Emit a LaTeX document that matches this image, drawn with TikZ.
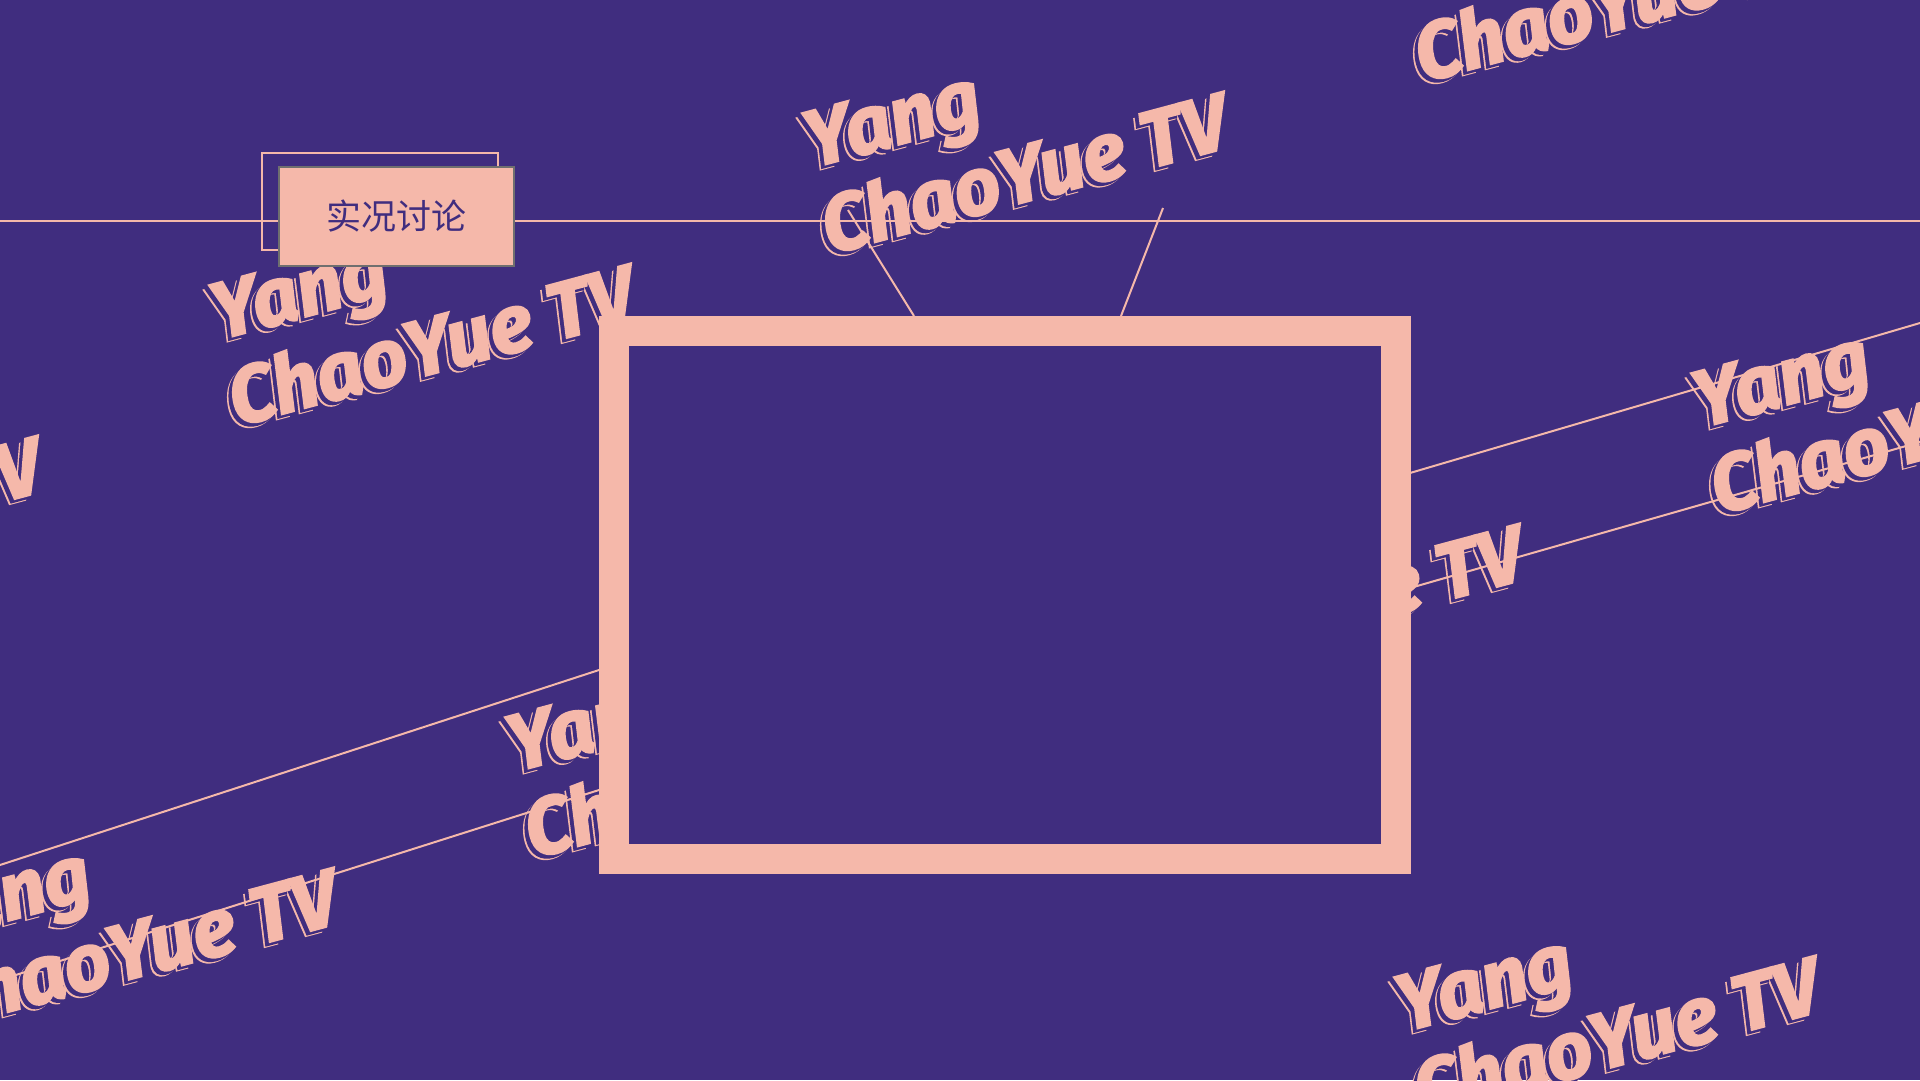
\documentclass[tikz,border=0pt]{standalone}
\usepackage{fontspec}
\usetikzlibrary{positioning}
\newfontfamily\wmfont{Fira Sans}[BoldItalicFeatures={FakeBold=2.6}]
\newfontfamily\cjkfont{Noto Sans CJK SC}
\definecolor{tvpurple}{RGB}{64,45,127}
\definecolor{tvpink}{RGB}{245,184,170}
\definecolor{tvgray}{RGB}{111,111,111}
% Schriftzug mit versetztem Schatten
\newcommand\wmtext[1]{%
  \makebox[0pt][l]{\hspace*{-6.1pt}\raisebox{-3.5pt}{\color{tvpink}#1}}%
  \makebox[0pt][l]{\hspace*{-4.3pt}\raisebox{-2.45pt}{\color{tvpurple}#1}}%
  {\color{tvpink}#1}}
\tikzset{
  Marke/.style={inner sep=0pt, anchor=base west, font=\wmfont\bfseries\itshape\fontsize{80}{88}\selectfont}, % Wasserzeichen
  Linie/.style={draw=tvpink, line width=2pt} % duenne Linien
}
\begin{document}
\begin{tikzpicture}[x=1pt, y=-1pt]
\useasboundingbox (0,0) rectangle (1920,1080);
\fill[tvpurple] (0,0) rectangle (1920,1080);

%Wasserzeichen
\foreach \i/\j in {0/0,1/0,-1/0,-2/0,0/1,1/1,-1/1,-2/1,0/2}{
  \pgfmathsetmacro\px{812+593*\i+296*\j}
  \pgfmathsetmacro\py{168-172*\i+432*\j}
  \begin{scope}[shift={(\px,\py)}, rotate=15, transform shape]
    \node[Marke] (yang\i\j) at (0,0) {\wmtext{Yang}};
    \node[Marke] (chao\i\j) at (-5,88) {\wmtext{ChaoYue TV}};
  \end{scope}
}

%Linien
\coordinate (hl) at (0,221);
\coordinate (hr) at (1920,221);
\coordinate (a1) at (1410,473);
\coordinate (a2) at (1920,323);
\coordinate (b1) at (1410,588);
\coordinate (b2) at (1920,442);
\coordinate (c1) at (0,865);
\coordinate (c2) at (599,670);
\coordinate (d1) at (0,980);
\coordinate (d2) at (599,790);
\coordinate (ant1) at (848,210);
\coordinate (fuss1) at (914,316);
\coordinate (ant2) at (1163,208);
\coordinate (fuss2) at (1121,316);
\draw[Linie] (hl) -- (hr);
\draw[Linie] (a1) -- (a2);
\draw[Linie] (b1) -- (b2);
\draw[Linie] (c1) -- (c2);
\draw[Linie] (d1) -- (d2);
\draw[Linie] (fuss1) -- (ant1);
\draw[Linie] (fuss2) -- (ant2);

%Titel
\node[draw=tvpink, line width=2pt, minimum width=236pt, minimum height=97pt, inner sep=0pt] (tagrahmen) at (380,201) {};
\node[fill=tvpink, draw=tvgray, line width=1.5pt, minimum width=235pt, minimum height=99pt, inner sep=0pt,
  text=tvpurple, font=\cjkfont\fontsize{35}{40}\selectfont] (tag) at (396.5,216.5) {实况讨论};

%Bildschirm
\node[draw=tvpink, fill=tvpurple, line width=30pt, minimum width=782pt, minimum height=528pt, inner sep=0pt] (schirm) at (1005,595) {};
\end{tikzpicture}
\end{document}
